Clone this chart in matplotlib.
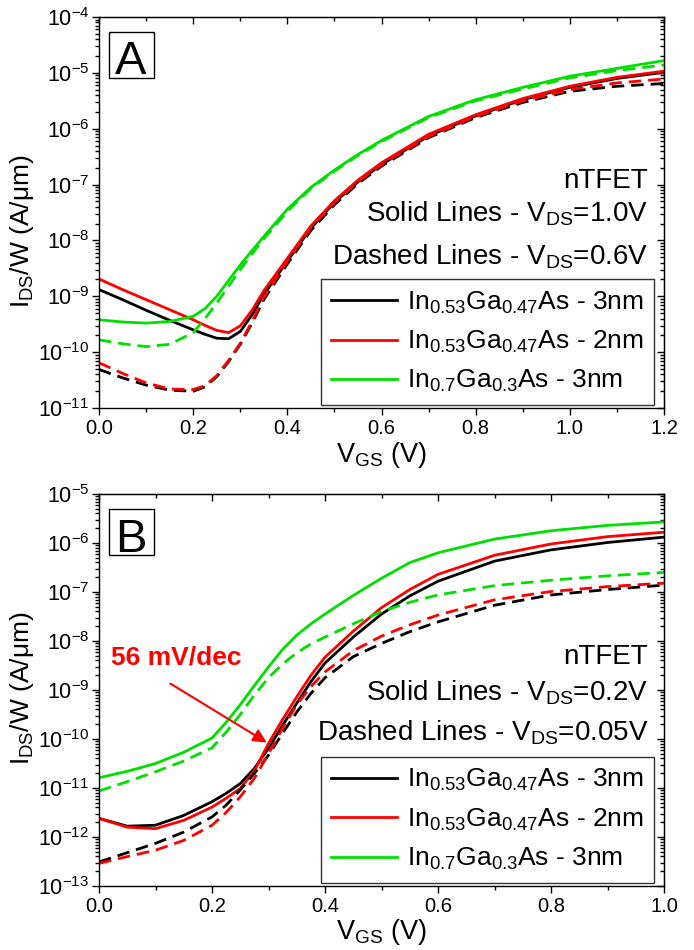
import numpy as np
import matplotlib
matplotlib.use("Agg")
import matplotlib.pyplot as plt
from matplotlib.ticker import MultipleLocator, LogLocator, NullFormatter, LogFormatterMathtext
from matplotlib.patches import Rectangle

plt.rcParams['font.family'] = ['Liberation Sans', 'DejaVu Sans']
plt.rcParams['mathtext.fontset'] = 'custom'
plt.rcParams['mathtext.rm'] = 'Liberation Sans'
plt.rcParams['mathtext.it'] = 'Liberation Sans:italic'
plt.rcParams['mathtext.bf'] = 'Liberation Sans:bold'
plt.rcParams['mathtext.default'] = 'regular'

# ---- panel A data: VGS (V) and log10(IDS/W) ----
vgs_a = [0, 0.05, 0.1, 0.15, 0.2, 0.225, 0.25, 0.275, 0.3, 0.325, 0.35, 0.4,
         0.45, 0.5, 0.55, 0.6, 0.7, 0.8, 0.9, 1.0, 1.1, 1.2]
a_black_solid = [-8.88, -9.06, -9.25, -9.43, -9.60, -9.68, -9.75, -9.76, -9.63, -9.33, -8.97, -8.37,
                 -7.78, -7.32, -6.95, -6.64, -6.13, -5.77, -5.48, -5.26, -5.10, -4.99]
a_red_solid = [-8.69, -8.88, -9.06, -9.24, -9.42, -9.52, -9.61, -9.65, -9.53, -9.25, -8.90, -8.32,
               -7.74, -7.29, -6.92, -6.61, -6.10, -5.75, -5.46, -5.24, -5.08, -4.97]
a_green_solid = [-9.42, -9.46, -9.48, -9.45, -9.36, -9.22, -9.00, -8.72, -8.44, -8.18, -7.93, -7.44,
                 -7.05, -6.74, -6.46, -6.21, -5.78, -5.48, -5.26, -5.06, -4.92, -4.78]
a_black_dash = [-10.31, -10.46, -10.59, -10.68, -10.70, -10.62, -10.44, -10.17, -9.86, -9.48, -9.06, -8.42,
                -7.82, -7.36, -6.98, -6.67, -6.16, -5.80, -5.53, -5.33, -5.24, -5.19]
a_red_dash = [-10.19, -10.38, -10.55, -10.66, -10.67, -10.60, -10.42, -10.15, -9.84, -9.45, -9.02, -8.37,
              -7.77, -7.32, -6.95, -6.64, -6.14, -5.78, -5.50, -5.30, -5.18, -5.11]
a_green_dash = [-9.78, -9.85, -9.90, -9.86, -9.65, -9.40, -9.12, -8.82, -8.52, -8.24, -7.97, -7.48,
                -7.07, -6.76, -6.48, -6.23, -5.80, -5.50, -5.29, -5.09, -4.96, -4.86]

# ---- panel B data ----
vgs_b = [0, 0.05, 0.1, 0.15, 0.2, 0.225, 0.25, 0.275, 0.3, 0.325, 0.35, 0.375, 0.4,
         0.45, 0.5, 0.55, 0.6, 0.7, 0.8, 0.9, 1.0]
b_black_solid = [-11.62, -11.78, -11.76, -11.56, -11.28, -11.11, -10.91, -10.60, -10.19, -9.72, -9.27, -8.83,
                 -8.45, -7.92, -7.45, -7.08, -6.78, -6.37, -6.14, -5.99, -5.88]
b_red_solid = [-11.62, -11.80, -11.83, -11.66, -11.39, -11.21, -11.01, -10.65, -10.09, -9.60, -9.14, -8.70,
               -8.33, -7.80, -7.32, -6.95, -6.64, -6.25, -6.02, -5.87, -5.78]
b_green_solid = [-10.79, -10.66, -10.50, -10.27, -9.98, -9.66, -9.30, -8.91, -8.53, -8.17, -7.88, -7.65,
                 -7.45, -7.07, -6.72, -6.40, -6.20, -5.92, -5.75, -5.64, -5.57]
b_black_dash = [-12.51, -12.32, -12.13, -11.90, -11.59, -11.35, -11.04, -10.70, -10.33, -9.88, -9.45, -9.07,
                -8.75, -8.32, -8.05, -7.81, -7.61, -7.27, -7.06, -6.95, -6.86]
b_red_dash = [-12.54, -12.40, -12.27, -12.07, -11.76, -11.50, -11.18, -10.80, -10.30, -9.78, -9.30, -8.93,
              -8.63, -8.20, -7.90, -7.67, -7.47, -7.16, -6.99, -6.89, -6.82]
b_green_dash = [-11.06, -10.87, -10.67, -10.45, -10.18, -9.86, -9.50, -9.10, -8.75, -8.47, -8.24, -8.06,
                -7.92, -7.65, -7.40, -7.21, -7.06, -6.87, -6.76, -6.67, -6.60]

labels = ['In$_{0.53}$Ga$_{0.47}$As - 3nm', 'In$_{0.53}$Ga$_{0.47}$As - 2nm', 'In$_{0.7}$Ga$_{0.3}$As - 3nm']
colors = ['black', '#ff0000', '#00e000']

fig = plt.figure(figsize=(6.94, 9.5), dpi=100)
ax_a = fig.add_axes([0.1427, 0.5705, 0.8141, 0.4116])
ax_b = fig.add_axes([0.1427, 0.0674, 0.8141, 0.4126])


def draw_panel(ax, x, solids, dashes, xmax, ylim, tag, vds_txt):
    for ys, c, lab in zip(solids, colors, labels):
        ax.plot(x, 10 ** np.array(ys), color=c, lw=2, label=lab)
    for ys, c in zip(dashes, colors):
        ax.plot(x, 10 ** np.array(ys), color=c, lw=2, dashes=(4.5, 2.5))
    ax.set_yscale('log')
    ax.set_xlim(0, xmax)
    ax.set_ylim(*ylim)
    ax.xaxis.set_major_locator(MultipleLocator(0.2))
    ax.xaxis.set_minor_locator(MultipleLocator(0.1))
    ax.yaxis.set_major_locator(LogLocator(base=10, numticks=30))
    ax.yaxis.set_minor_locator(LogLocator(base=10, subs=np.arange(2, 10), numticks=30))
    ax.yaxis.set_minor_formatter(NullFormatter())
    ax.yaxis.set_major_formatter(LogFormatterMathtext())
    ax.xaxis.set_major_formatter(lambda v, p: f"{v:.1f}")
    ax.tick_params(which='both', direction='out', width=1, pad=2)
    ax.tick_params(axis='x', labelsize=14.5, pad=3)
    ax.tick_params(axis='y', labelsize=15.5)
    ax.tick_params(which='major', length=5)
    ax.tick_params(which='minor', length=3)
    for s in ax.spines.values():
        s.set_linewidth(1)

    # mirrored ticks pointing inward on top and right
    top = ax.secondary_xaxis('top')
    top.xaxis.set_major_locator(MultipleLocator(0.2))
    top.xaxis.set_minor_locator(MultipleLocator(0.1))
    top.tick_params(which='both', direction='in', labeltop=False, width=1)
    top.tick_params(which='major', length=5)
    top.tick_params(which='minor', length=3)
    right = ax.secondary_yaxis('right')
    right.yaxis.set_major_locator(LogLocator(base=10, numticks=30))
    right.yaxis.set_minor_locator(LogLocator(base=10, subs=np.arange(2, 10), numticks=30))
    right.tick_params(which='both', direction='in', labelright=False, width=1)
    right.tick_params(which='major', length=5)
    right.tick_params(which='minor', length=3)

    ax.set_xlabel('V$_{GS}$ (V)', fontsize=19.5, labelpad=1)
    ax.set_ylabel('I$_{DS}$/W (A/\u03bcm)', fontsize=19)

    ax.add_patch(Rectangle((0.0177, 0.844), 0.0796, 0.118, transform=ax.transAxes,
                           fill=False, ec='black', lw=1, zorder=5))
    ax.text(0.0566, 0.853, tag, transform=ax.transAxes, fontsize=34,
            ha='center', va='baseline', zorder=6)

    leg = ax.legend(loc='lower right', bbox_to_anchor=(0.982, 0.008), borderaxespad=0,
                    fontsize=19, frameon=True, fancybox=False, edgecolor='black',
                    handlelength=2.5, handletextpad=0.35, labelspacing=0.5,
                    borderpad=0.4)
    leg.get_frame().set_linewidth(1)

    for txt, yy in vds_txt:
        ax.text(0.972, yy, txt, transform=ax.transAxes, fontsize=20,
                ha='right', va='baseline')


draw_panel(ax_a, vgs_a, [a_black_solid, a_red_solid, a_green_solid],
           [a_black_dash, a_red_dash, a_green_dash], 1.2, (1e-11, 1e-4), 'A',
           [('nTFET', 0.563), ('Solid Lines - V$_{DS}$=1.0V', 0.476),
            ('Dashed Lines - V$_{DS}$=0.6V', 0.366)])
draw_panel(ax_b, vgs_b, [b_black_solid, b_red_solid, b_green_solid],
           [b_black_dash, b_red_dash, b_green_dash], 1.0, (1e-13, 1e-5), 'B',
           [('nTFET', 0.566), ('Solid Lines - V$_{DS}$=0.2V', 0.474),
            ('Dashed Lines - V$_{DS}$=0.05V', 0.370)])

ax_a.yaxis.set_label_coords(-0.112, 0.451)
ax_b.yaxis.set_label_coords(-0.112, 0.504)

ax_b.annotate('', xy=(0.301, 10 ** -10.10), xytext=(0.122, 10 ** -8.84),
              arrowprops=dict(arrowstyle='-|>', color='#ff0000', lw=1.5, mutation_scale=20))
ax_b.text(0.137, 10 ** -8.34, '56 mV/dec', color='#ff0000', fontsize=19, fontweight='bold',
          ha='center', va='center')

fig.savefig('out.png', dpi=100)
